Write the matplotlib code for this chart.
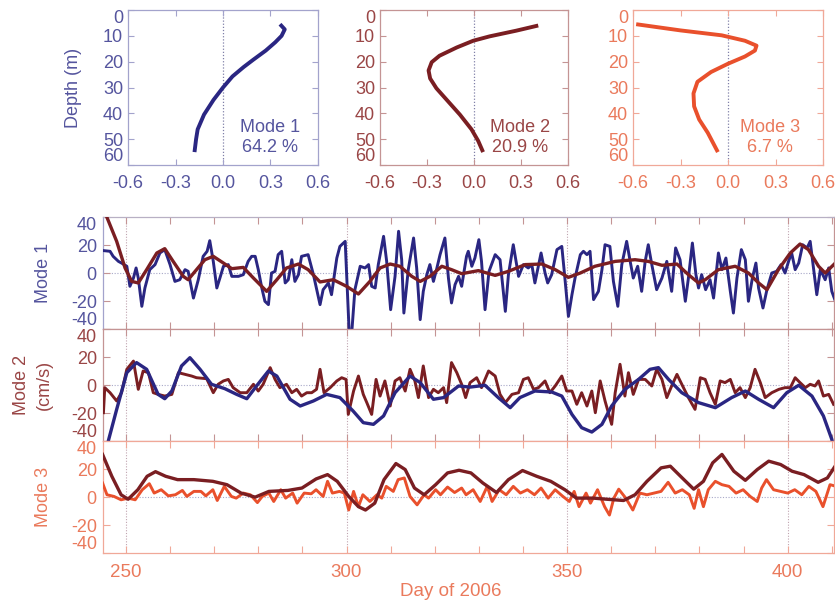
import matplotlib
matplotlib.use('Agg')
import matplotlib.pyplot as plt
from matplotlib.ticker import MultipleLocator

plt.rcParams['font.family'] = ['Liberation Sans', 'DejaVu Sans']

# ---------------- data ----------------
prof_xticks = [-0.6, -0.3, 0.0, 0.3, 0.6]
prof_xticklabels = ['-0.6', '-0.3', '0.0', '0.3', '0.6']
depth_ticks = [0, 10, 20, 30, 40, 50, 60]
depth_ticklabels = ['0', '10', '20', '30', '40', '50', '60']

mode1_prof_x = [0.36, 0.39, 0.37, 0.33, 0.27, 0.19, 0.13, 0.06, 0.0, -0.06, -0.12, -0.16, -0.17, -0.18]
mode1_prof_z = [5.5, 7.5, 10, 12.5, 15.7, 19.3, 22.1, 25.7, 30, 34.8, 40.5, 46.2, 50, 55]
mode2_prof_x = [0.41, 0.27, 0.10, -0.005, -0.11, -0.22, -0.27, -0.29, -0.28, -0.24, -0.165, -0.09, -0.016, 0.027, 0.058]
mode2_prof_z = [6.0, 8.0, 10.2, 11.9, 14.5, 17.7, 20.2, 23.4, 26.5, 30.3, 35.4, 40.5, 46.2, 50.7, 55]
mode3_prof_x = [-0.58, -0.30, -0.04, 0.107, 0.18, 0.17, 0.107, 0.0, -0.107, -0.193, -0.218, -0.214, -0.182, -0.128, -0.064]
mode3_prof_z = [5.5, 7.9, 9.8, 11.9, 13.8, 15.7, 18.0, 20.8, 24, 27.8, 32.3, 37.3, 42.4, 47.5, 55]
mode_labels = ['Mode 1\n64.2 %', 'Mode 2\n20.9 %', 'Mode 3\n6.7 %']

day_ticks = [250, 300, 350, 400]
amp_ticks = [-40, -20, 0, 20, 40]
amp_ticklabels = ['-40', '-20', '0', '20', '40']

# Panel 1: mode-1 amplitude (noisy, blue) and fitted (smooth, red)
m1_obs = [(244.9, 16.0), (246.4, 15.5), (247.1, 11.9), (248.3, 8.3), (249.0, 7.1), (250.2, 4.8),
          (250.9, -9.5), (251.7, -3.6), (252.3, 3.6), (252.8, -3.6), (253.6, -23.8), (254.3, -10.7),
          (255.4, 2.4), (256.6, 6.0), (257.7, 14.3), (258.8, 16.7), (260.0, 6.0), (261.1, -6.0),
          (262.2, -4.8), (263.4, 2.4), (264.1, 1.2), (265.3, -17.9), (266.4, -4.8), (267.5, 11.9),
          (268.4, 15.5), (269.0, 23.1), (269.8, 8.3), (270.6, -10.7), (271.3, -3.6), (272.1, 4.8),
          (273.2, 6.0), (274.0, -2.4), (275.5, -2.4), (276.6, -1.2), (277.7, 8.3), (278.5, 11.9),
          (279.3, 11.9), (280.0, 2.4), (280.8, -10.7), (281.5, -20.2), (282.3, -22.6), (283.0, 0.0),
          (283.8, 1.2), (284.5, 13.1), (285.3, 15.5), (286.1, -7.1), (286.8, -4.8), (287.6, 9.5),
          (288.3, -6.0), (289.1, -1.2), (289.8, 11.9), (291.3, 13.1), (292.5, -1.2), (294.0, -22.6),
          (294.7, -11.9), (295.9, -7.1), (296.6, -15.5), (297.8, 10.7), (298.5, 19.0), (299.7, 22.6),
          (300.0, 1.2), (300.6, -42), (301.2, -42), (301.9, -11.9), (303.1, 4.8), (304.2, 3.6),
          (305.0, 6.0), (305.7, -9.5), (306.5, -10.7), (307.2, 6.0), (308.4, 26.2), (309.1, 8.3),
          (310.0, -26.2), (311.0, -2.4), (311.8, 29.8), (312.5, 9.5), (313.0, -28.6), (314.0, 2.4),
          (315.2, 25.0), (315.9, 3.6), (316.7, -33.3), (317.4, -13.1), (318.2, -1.2), (318.9, 6.0),
          (319.7, -6.0), (320.4, 2.4), (321.2, 13.1), (322.3, 25.0), (323.1, -3.6), (323.8, -21.4),
          (324.6, -8.3), (325.4, -2.4), (326.1, -9.5), (327.2, 11.9), (327.6, 15.5), (328.4, 4.8),
          (329.1, 10.7), (330.0, 23.8), (330.6, 8.3), (331.4, -26.2), (332.3, 1.2), (333.7, 13.1),
          (334.8, 9.5), (336.0, -27.4), (336.7, -1.2), (337.8, 20.2), (339.0, -2.4), (340.1, 6.0),
          (341.2, 3.6), (342.0, 6.0), (342.7, -7.1), (344.1, 14.3), (345.0, 0.0), (345.6, -7.1),
          (346.5, -1.2), (347.7, 16.7), (348.8, 19.0), (349.5, -3.6), (350.3, -31.0), (351.1, -15.5),
          (351.8, -3.6), (353.0, 13.1), (353.7, 15.5), (354.5, 13.1), (355.2, 15.5), (356.0, -19.0),
          (357.1, -13.1), (357.9, 2.4), (358.6, 20.2), (359.7, 19.0), (360.5, -6.0), (361.5, -23.8),
          (362.4, 6.0), (363.5, 22.6), (364.3, 8.3), (365.0, -3.6), (366.0, 4.8), (366.9, -13.1),
          (367.7, 8.3), (368.4, 20.2), (369.2, 6.0), (370.3, -11.9), (371.5, -3.6), (372.6, 8.3),
          (373.7, -13.1), (374.6, 17.9), (375.6, 9.5), (376.8, -20.2), (377.5, -3.6), (378.4, 21.4),
          (379.2, -1.2), (379.8, -10.7), (380.5, -1.2), (381.4, -11.9), (382.4, -4.8), (383.2, -17.9),
          (384.3, 14.3), (385.1, 2.4), (386.0, 10.7), (387.0, -13.1), (387.7, -28.6), (388.5, -3.6),
          (389.5, 16.7), (390.4, 9.5), (391.1, -20.2), (392.0, -3.6), (392.8, 7.1), (393.4, -10.7),
          (394.4, -25.0), (395.3, -11.9), (396.4, 0.0), (397.5, 1.2), (398.5, 6.0), (399.4, 0.0),
          (400.2, 8.3), (400.9, 14.3), (401.7, 2.4), (402.5, 7.1), (403.4, 20.2), (404.4, 17.9),
          (405.1, 22.6), (405.9, 2.4), (406.6, -15.5), (407.4, 2.4), (408.5, -4.8), (409.3, 3.6),
          (410.0, -13.1), (410.8, -20.0)]
m1_fit = [(244.6, 44.0), (245.6, 40.5), (247.9, 22.6), (249.8, 3.6), (251.3, -6.0), (252.8, -7.1),
          (254.7, 2.4), (257.0, 14.3), (258.8, 17.4), (260.7, 8.3), (263.0, -2.4), (264.1, -4.8),
          (266.0, 2.4), (267.9, 9.5), (269.8, 11.9), (272.1, 7.1), (274.0, 3.1), (276.6, 4.0),
          (278.9, -3.6), (281.9, -13.1), (284.2, -4.8), (286.4, 3.6), (289.1, 6.4), (291.3, 2.4),
          (294.0, -6.4), (297.0, -4.8), (300.0, -9.5), (302.7, -15.0), (305.3, -6.0), (307.6, 3.6),
          (309.9, 6.4), (312.1, 4.8), (314.8, -2.4), (316.7, -6.0), (318.9, -2.4), (321.6, 4.8),
          (323.8, 2.4), (326.1, -0.5), (329.9, 1.7), (333.7, -1.7), (336.7, 1.2), (340.5, 6.0),
          (344.3, 6.4), (347.3, 2.4), (350.3, -3.1), (353.0, 0.0), (356.3, 4.8), (360.9, 8.3),
          (365.4, 9.5), (368.4, 8.3), (371.5, 5.5), (374.9, 6.4), (377.5, -1.2), (379.8, -7.1),
          (381.3, -4.8), (384.3, 2.4), (388.1, 4.8), (391.1, 0.0), (393.4, -7.1), (395.3, -11.9),
          (397.9, 2.4), (400.6, 14.3), (402.8, 20.7), (404.7, 16.7), (407.0, 4.8), (408.5, 0.0),
          (410.8, 7.1)]

# Panel 2: mode-2 amplitude (noisy, red) and fitted (smooth, blue)
m2_obs = [(244.9, -19.8), (245.2, -1.9), (246.4, -5.5), (247.9, -11.4), (249.0, -5.5), (250.2, 11.2),
          (251.7, 17.1), (252.8, -3.1), (253.9, 10.0), (255.1, 8.8), (256.2, -5.5), (257.3, -6.7),
          (258.8, -7.9), (260.4, -6.7), (261.9, 8.8), (263.4, 7.6), (264.9, 6.4), (266.0, 5.2),
          (268.3, 4.5), (269.8, -5.5), (270.9, 0.5), (272.1, 2.9), (273.2, 4.0), (274.3, -1.9),
          (275.9, -5.5), (277.4, -5.5), (278.9, 0.5), (280.0, -4.3), (281.1, 0.5), (282.7, 12.4),
          (283.8, 4.0), (284.9, -1.9), (286.4, 0.5), (287.6, -5.5), (288.7, -3.1), (289.8, -7.9),
          (291.0, -5.5), (292.1, -5.5), (293.2, -3.1), (294.0, 11.2), (294.9, -5.5), (296.3, -1.9),
          (297.8, 2.9), (298.9, 5.2), (299.9, 4.0), (300.4, -21.0), (301.6, -4.3), (302.7, 6.4),
          (303.8, -6.7), (304.6, -12.6), (305.7, -21.0), (306.7, 4.0), (307.6, -7.9), (308.7, 2.9),
          (309.9, -15.0), (311.0, 2.9), (312.1, 5.2), (313.3, -4.3), (314.4, 11.2), (315.5, 2.9),
          (316.3, -9.0), (317.4, 13.6), (318.6, -9.0), (319.7, -3.1), (320.8, -5.5), (322.0, -1.9),
          (322.7, -12.6), (323.8, 16.0), (325.0, 8.8), (326.1, 0.5), (327.0, -9.0), (328.0, 1.7),
          (329.5, 5.2), (330.6, -1.9), (332.2, 10.0), (333.7, 6.4), (334.8, -6.7), (336.0, -12.6),
          (337.5, -6.7), (339.0, -5.5), (340.1, 4.0), (341.2, 5.2), (342.4, -3.1), (343.5, -1.9),
          (345.0, 2.9), (346.1, -5.5), (347.3, -0.7), (348.8, 6.4), (349.9, -4.3), (351.1, -4.3),
          (352.2, -13.8), (353.3, -5.5), (354.5, -15.0), (355.6, -4.3), (356.4, -19.8), (357.5, 2.9),
          (358.6, -11.4), (360.1, -28.1), (360.9, -5.5), (362.0, 14.8), (363.1, -7.9), (363.9, 8.8),
          (365.0, -6.7), (366.2, 4.0), (367.7, 4.0), (369.2, -0.7), (370.3, 11.2), (371.5, 4.0),
          (372.6, -9.0), (373.7, -0.7), (374.9, 7.6), (376.0, 0.5), (377.5, -9.0), (379.0, -17.4),
          (380.2, 5.2), (381.3, 4.0), (382.4, -5.5), (383.6, -13.8), (384.7, 2.9), (385.8, 1.7),
          (387.0, 4.0), (388.1, -5.5), (389.2, -1.9), (390.4, -9.0), (391.5, -1.9), (392.6, 11.2),
          (393.8, 1.7), (394.9, -9.0), (396.4, -5.5), (398.0, -3.1), (399.4, -1.9), (400.6, -1.9),
          (401.7, 5.2), (402.8, 1.7), (404.0, -1.9), (405.1, 0.5), (406.2, -0.7), (407.0, 2.9),
          (408.1, -7.9), (409.3, -6.7), (410.4, -13.8)]
m2_fit = [(245.2, -50.0), (246.0, -40.0), (247.9, -17.4), (250.2, 8.8), (252.4, 16.0), (254.7, 11.2),
          (257.3, -6.7), (258.8, -9.8), (260.4, -4.3), (262.6, 13.6), (264.5, 19.5), (266.8, 11.2),
          (269.4, 0.5), (272.4, -2.6), (275.1, -6.7), (277.4, -9.8), (279.6, -0.7), (282.3, 10.0),
          (284.2, 6.4), (287.2, -10.2), (289.5, -15.0), (292.5, -11.4), (295.5, -6.7), (298.5, -9.0),
          (301.5, -18.6), (303.8, -26.9), (306.1, -28.1), (308.4, -22.1), (311.0, -5.5), (314.4, 6.4),
          (316.7, 1.7), (319.7, -10.2), (322.0, -9.0), (325.4, -0.7), (328.0, -1.5), (331.4, -0.2),
          (334.4, -9.0), (337.1, -16.2), (339.3, -9.0), (342.7, -4.3), (346.5, -5.0), (348.8, -7.9),
          (351.1, -21.0), (353.3, -30.5), (355.6, -33.6), (357.9, -28.1), (360.1, -15.0), (363.1, -3.1),
          (366.2, 4.0), (368.8, 11.2), (370.7, 12.4), (373.0, 4.0), (376.0, -5.5), (379.8, -12.6),
          (383.6, -16.2), (387.3, -9.0), (390.4, -4.3), (393.4, -10.2), (396.8, -16.2), (399.8, -5.5),
          (402.5, -0.2), (405.5, -7.9), (408.1, -22.1), (410.0, -38.8), (410.8, -50.0)]

# Panel 3: mode-3 amplitude (noisy, orange) and fitted (smooth, dark red)
m3_obs = [(244.7, 10.0), (245.7, 1.6), (247.3, 0.4), (248.9, -2.0), (250.5, -0.8), (252.1, -2.0),
          (253.7, 5.2), (255.3, 9.5), (256.4, 2.8), (258.0, 5.2), (259.6, 0.8), (261.2, 1.6),
          (262.8, 4.7), (263.8, 0.4), (265.4, 4.0), (267.0, 4.0), (268.1, 0.8), (269.7, 5.2),
          (270.7, -2.5), (272.3, 7.6), (273.9, 0.4), (275.0, -0.8), (276.6, 2.8), (278.2, 1.6),
          (279.8, -4.0), (280.9, 0.4), (282.4, 2.8), (283.5, -3.2), (285.1, 5.2), (286.2, -0.8),
          (287.8, 2.8), (288.8, -4.4), (290.4, 2.8), (292.0, 2.3), (293.1, 5.2), (294.7, 0.4),
          (295.7, 11.2), (296.8, 2.8), (298.4, 4.0), (299.5, 2.8), (300.5, -9.3), (301.6, 4.0),
          (302.7, -6.9), (303.7, 1.6), (305.3, -3.2), (306.9, 1.6), (308.0, -0.8), (309.0, 7.6),
          (310.6, 4.0), (311.7, 12.4), (313.1, 13.6), (314.4, 0.4), (316.0, -5.6), (317.6, 1.6),
          (318.6, -0.8), (320.2, 5.2), (321.3, 1.6), (322.9, 7.1), (324.5, 3.2), (326.1, 6.4),
          (327.1, 1.6), (328.7, 5.2), (330.3, -3.2), (331.9, 7.6), (333.0, -3.2), (334.6, 5.2),
          (336.2, 1.6), (337.8, 7.6), (339.4, 2.8), (341.0, 5.2), (342.6, 1.6), (344.1, 6.4),
          (345.7, -0.8), (347.3, 5.2), (348.9, 0.8), (350.5, -3.2), (351.6, 4.0), (352.7, -6.9),
          (354.3, 2.8), (355.3, -4.4), (356.9, 5.2), (358.5, -6.9), (359.6, -12.9), (360.6, -0.8),
          (361.7, 5.6), (363.3, -0.8), (364.9, -9.3), (366.5, 2.8), (368.1, 1.6), (369.7, 2.8),
          (371.3, 4.0), (372.9, 10.5), (374.5, 2.8), (376.1, 5.2), (377.7, 1.6), (378.8, -8.1),
          (379.8, 5.2), (380.9, -6.9), (382.0, 5.2), (383.6, 11.2), (385.1, 8.8), (386.7, 7.6),
          (388.3, 2.8), (389.9, 5.2), (391.5, 0.4), (393.1, -3.2), (394.1, 6.4), (395.2, 12.4),
          (396.8, 5.2), (398.4, 4.0), (400.0, 2.8), (401.6, 5.2), (403.2, 1.6), (404.8, 7.6),
          (406.4, 4.0), (408.0, -6.9), (409.6, 8.8), (411.0, 7.6)]
m3_fit = [(244.7, 30.4), (246.8, 14.8), (248.9, 1.6), (250.5, -1.6), (252.7, 5.2), (254.8, 14.8),
          (256.7, 18.1), (259.0, 14.8), (261.7, 12.4), (265.4, 12.4), (269.7, 11.2), (272.9, 8.8),
          (276.1, 2.8), (279.3, -0.1), (282.4, 4.0), (286.7, 4.7), (289.9, 6.4), (293.1, 12.9),
          (295.7, 16.0), (297.9, 11.2), (300.5, 0.4), (302.7, -6.9), (304.3, -9.3), (306.4, -4.4),
          (308.5, 12.4), (311.2, 23.9), (313.3, 19.6), (315.4, 6.4), (317.6, 1.6), (320.2, 8.8),
          (322.9, 17.2), (325.5, 19.1), (328.2, 17.2), (330.9, 10.0), (334.0, 3.2), (336.7, 12.4),
          (339.9, 18.9), (343.1, 14.8), (346.3, 11.2), (349.5, 5.2), (352.1, -0.8), (355.9, -0.8),
          (359.0, -1.6), (362.8, -2.5), (365.4, 1.6), (368.1, 11.2), (371.3, 20.8), (373.4, 22.0),
          (376.1, 13.6), (378.7, 5.6), (380.9, 11.2), (383.0, 24.4), (385.1, 30.4), (387.8, 18.4),
          (390.4, 11.9), (393.1, 19.6), (395.7, 25.6), (398.4, 23.2), (401.0, 18.4), (403.7, 16.0),
          (406.9, 10.5), (409.0, 13.6), (411.0, 23.2)]

# ---------------- style ----------------
NAVY = '#2a2682'
MAROON = '#7a1e22'
ORANGE = '#e9502c'
TXT1 = '#55559e'
TXT2 = '#9a4646'
TXT3 = '#ea7a5c'
SP1 = '#a3a3cc'
SP2 = '#c49494'
SP3 = '#f0a898'
FS = 13

W, H = 835, 605
fig = plt.figure(figsize=(W / 100, H / 100), dpi=100)


def box(l, t, r, b):
    return [l / W, 1 - b / H, (r - l) / W, (b - t) / H]


def xy(pairs):
    return [p[0] for p in pairs], [p[1] for p in pairs]


# ---------------- profile panels ----------------
prof_specs = [
    ((128, 318), mode1_prof_x, mode1_prof_z, NAVY, SP1, TXT1, 0.75),
    ((380, 568), mode2_prof_x, mode2_prof_z, MAROON, SP2, TXT2, 0.745),
    ((633, 823), mode3_prof_x, mode3_prof_z, ORANGE, SP3, TXT3, 0.72),
]
for i, ((l, r), px, pz, lc, sc, tc, tx) in enumerate(prof_specs):
    ax = fig.add_axes(box(l, 10, r, 165))
    ax.axvline(0, color='#8080a8', ls=(0, (1, 1.5)), lw=0.9, zorder=1)
    ax.plot(px, pz, color=lc, lw=2.8, solid_capstyle='butt', solid_joinstyle='round', zorder=3)
    ax.set_xlim(-0.6, 0.6)
    ax.set_ylim(60, 0)
    ax.set_xticks(prof_xticks)
    ax.set_xticklabels(prof_xticklabels)
    ax.set_yticks(depth_ticks)
    ax.set_yticklabels(depth_ticklabels)
    ax.tick_params(axis='both', direction='in', length=4, width=0.8, top=True, right=True,
                   color=sc, labelcolor=tc, labelsize=FS)
    ax.tick_params(axis='x', pad=7)
    ax.tick_params(axis='y', pad=3.5)
    for s in ax.spines.values():
        s.set_color(sc)
        s.set_linewidth(0.9)
    yt = ax.yaxis.get_major_ticks()
    yt[0].label1.set_verticalalignment('top')
    yt[-1].label1.set_verticalalignment('bottom')
    ax.text(tx, 0.175, mode_labels[i], transform=ax.transAxes, ha='center', va='center',
            color=tc, fontsize=FS, linespacing=1.25)

fig.text(74 / W, 1 - 88 / H, 'Depth (m)', rotation=90, ha='center', va='center',
         color=TXT1, fontsize=FS)

# ---------------- time-series panels ----------------
ts_specs = [
    ((217, 329), [(m1_obs, NAVY, 2.1), (m1_fit, MAROON, 2.4)], SP2, TXT1),
    ((329, 441), [(m2_obs, MAROON, 2.1), (m2_fit, NAVY, 2.4)], SP2, TXT2),
    ((441, 553), [(m3_obs, ORANGE, 2.1), (m3_fit, MAROON, 2.4)], SP3, TXT3),
]
axes_ts = []
for j, ((t, b), series, sc, tc) in enumerate(ts_specs):
    ax = fig.add_axes(box(103, t, 834, b))
    axes_ts.append(ax)
    for d in day_ticks:
        ax.axvline(d, color='#c0a4b0', ls=(0, (1, 1.5)), lw=0.8, zorder=1)
    ax.axhline(0, color='#a8a8c8', ls=(0, (1, 1.5)), lw=0.8, zorder=1)
    for k, (pairs, c, lw) in enumerate(series):
        dx, dy = xy(pairs)
        ax.plot(dx, dy, color=c, lw=lw, zorder=3 + k, solid_joinstyle='round')
    ax.set_xlim(244.8, 410.5)
    ax.set_ylim(-40, 40)
    ax.set_yticks(amp_ticks)
    ax.set_yticklabels(amp_ticklabels)
    ax.set_xticks(day_ticks)
    ax.xaxis.set_minor_locator(MultipleLocator(10))
    ax.tick_params(axis='both', which='both', direction='in', top=True, right=True,
                   color=sc, labelcolor=tc, labelsize=FS, width=0.8)
    ax.tick_params(axis='both', which='major', length=5)
    ax.tick_params(axis='both', which='minor', length=5)
    ax.tick_params(axis='y', pad=4.5)
    ax.tick_params(axis='x', pad=8, labelcolor=TXT3, labelsize=FS + 0.5)
    if j < 2:
        ax.tick_params(axis='x', labelbottom=False)
    for s in ax.spines.values():
        s.set_color(sc)
        s.set_linewidth(0.9)
    yt = ax.yaxis.get_major_ticks()
    yt[0].label1.set_verticalalignment('bottom')
    yt[-1].label1.set_verticalalignment('top')

axes_ts[0].spines['left'].set_color(SP1)
axes_ts[0].spines['top'].set_color('#b8b0c4')

fig.text(44 / W, 1 - 273 / H, 'Mode 1', rotation=90, ha='center', va='center', color=TXT1, fontsize=FS)
fig.text(21 / W, 1 - 385 / H, 'Mode 2', rotation=90, ha='center', va='center', color=TXT2, fontsize=FS)
fig.text(44 / W, 1 - 385 / H, '(cm/s)', rotation=90, ha='center', va='center', color=TXT2, fontsize=FS)
fig.text(44 / W, 1 - 497 / H, 'Mode 3', rotation=90, ha='center', va='center', color=TXT3, fontsize=FS)
fig.text(451 / W, 1 - 592 / H, 'Day of 2006', ha='center', va='center', color=TXT3, fontsize=FS + 0.5)

fig.savefig('out.png', dpi=100, facecolor='white')
